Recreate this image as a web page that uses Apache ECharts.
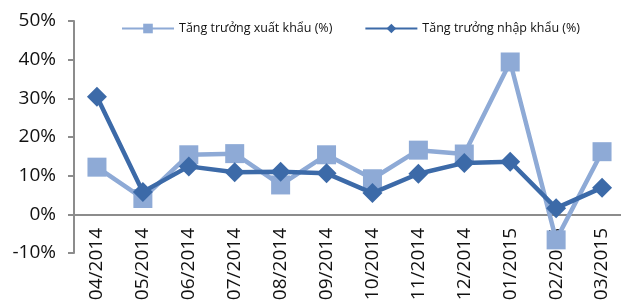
<!DOCTYPE html>
<html>
<head>
<meta charset="utf-8">
<script src="https://cdn.jsdelivr.net/npm/echarts@6/dist/echarts.min.js"></script>
<style>
	html, body { margin: 0; padding: 0; background: #fff; }
	#main { width: 621px; height: 305px; }
</style>
</head>
<body>
<div id="main"></div>
<script>
var months = ['04/2014', '05/2014', '06/2014', '07/2014', '08/2014', '09/2014',
	'10/2014', '11/2014', '12/2014', '01/2015', '02/2015', '03/2015'];
var xuatKhau = [12.2, 4.1, 15.4, 15.7, 7.6, 15.4, 9.2, 16.6, 15.6, 39.4, -6.6, 16.2];
var nhapKhau = [30.4, 5.8, 12.4, 10.9, 11.0, 10.6, 5.5, 10.5, 13.3, 13.6, 1.6, 6.9];
var seriesNames = ['Tăng trưởng xuất khẩu (%)', 'Tăng trưởng nhập khẩu (%)'];

var font = '"Open Sans", "Noto Sans", sans-serif';
var axisGray = '#8c8c8c';

var myChart = echarts.init(document.getElementById('main'));
var option = {
	animation: false,
	color: ['#8eaad6', '#3c6aa8'],
	legend: {
		top: 17,
		left: 116,
		itemWidth: 52,
		itemHeight: 12,
		itemGap: 32,
		textStyle: { fontFamily: font, fontSize: 12.5, color: '#111' },
		data: seriesNames
	},
	grid: {
		left: 74,
		right: -4,
		top: 21,
		bottom: 52,
		containLabel: false,
		outerBoundsMode: 'none'
	},
	xAxis: {
		type: 'category',
		data: months,
		axisLine: { lineStyle: { color: axisGray, width: 2 } },
		axisTick: { length: 6, lineStyle: { color: axisGray, width: 2 } },
		axisLabel: {
			rotate: 90,
			// labels sit at grid bottom, pull them up to the zero line
			margin: -25,
			interval: 0,
			fontFamily: font,
			fontSize: 19,
			color: '#111'
		}
	},
	yAxis: {
		type: 'value',
		min: -10,
		max: 50,
		interval: 10,
		splitLine: { show: false },
		axisLine: { show: true, lineStyle: { color: axisGray, width: 2 } },
		axisTick: { show: true, length: 6, lineStyle: { color: axisGray, width: 2 } },
		axisLabel: {
			margin: 18,
			fontFamily: font,
			fontSize: 19,
			color: '#111',
			formatter: '{value}%'
		}
	},
	series: [{
		name: seriesNames[0],
		type: 'line',
		data: xuatKhau,
		symbol: 'rect',
		symbolSize: 19,
		lineStyle: { width: 4.5 },
		z: 2
	}, {
		name: seriesNames[1],
		type: 'line',
		data: nhapKhau,
		symbol: 'diamond',
		symbolSize: 20,
		lineStyle: { width: 4.5 },
		z: 3
	}]
};
myChart.setOption(option);
</script>
</body>
</html>
